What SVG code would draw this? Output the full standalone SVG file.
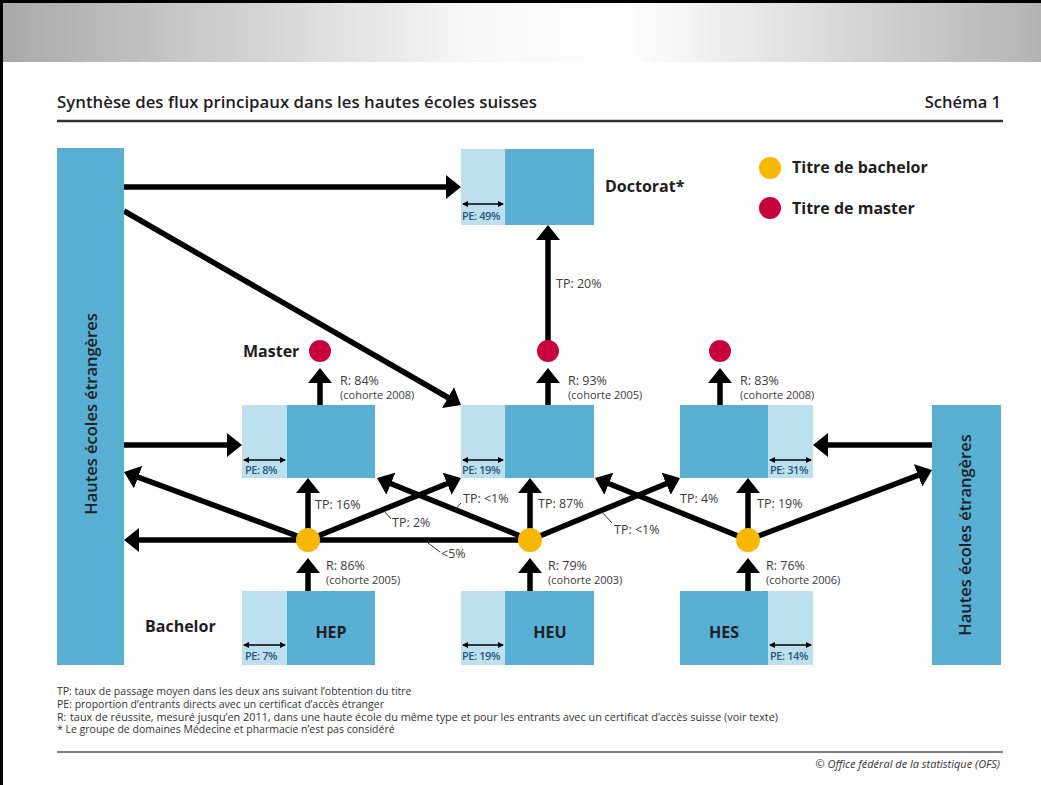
<svg xmlns="http://www.w3.org/2000/svg" width="1041" height="785" viewBox="0 0 1041 785">
<defs>
<linearGradient id="banner" x1="0" y1="0" x2="1" y2="0">
<stop offset="0" stop-color="#a9a9a9"/>
<stop offset="0.45" stop-color="#f7f7f7"/>
<stop offset="0.6" stop-color="#ffffff"/>
<stop offset="1" stop-color="#b3b3b3"/>
</linearGradient>
<marker id="ah" markerUnits="userSpaceOnUse" markerWidth="15" markerHeight="24" viewBox="0 0 15 24" refX="11" refY="12" orient="auto">
<path d="M0,0 L15,12 L0,24 Z" fill="#000"/>
</marker>
<marker id="pa" markerUnits="userSpaceOnUse" markerWidth="6" markerHeight="6" viewBox="0 0 6 6" refX="5" refY="3" orient="auto-start-reverse">
<path d="M0,0 L6,3 L0,6 Z" fill="#000"/>
</marker>
</defs>
<style>
text{font-family:"Open Sans","Liberation Sans",sans-serif}
.dark{fill:#58afd4}
.light{fill:#bde0ef}
.lbl{font-size:12.5px;fill:#3b3b3b}
.coh{font-size:11px;fill:#3b3b3b}
.pe{font-size:11px;font-weight:600;fill:#2a5677;letter-spacing:-0.4px}
.big{font-size:16px;font-weight:700;fill:#1e1e1e}
.vert{font-size:16.5px;font-weight:600;fill:#1e1e1e}
.fn{font-size:10.5px;fill:#333}
.arr{stroke:#000;stroke-width:5.5;fill:none;marker-end:url(#ah)}
.pel{stroke:#000;stroke-width:1.5;fill:none;marker-start:url(#pa);marker-end:url(#pa)}
.lead{stroke:#333;stroke-width:1;fill:none}
.yel{fill:#f9b800}
.mag{fill:#c8003f}
</style>
<rect x="0" y="0" width="1041" height="785" fill="#fff"/>
<rect x="3" y="3" width="1038" height="59" fill="url(#banner)"/>
<rect x="0" y="0" width="1041" height="3" fill="#000"/>
<rect x="0" y="0" width="3" height="785" fill="#000"/>

<g id="title">
<text x="57" y="108" textLength="480" lengthAdjust="spacingAndGlyphs" style="font-size:16.5px;font-weight:600;fill:#1e1e1e">Synthèse des flux principaux dans les hautes écoles suisses</text>
<text x="1001" y="108" text-anchor="end" style="font-size:16.5px;font-weight:600;fill:#1e1e1e">Schéma 1</text>
<line x1="57" y1="121" x2="1003" y2="121" stroke="#333" stroke-width="2.5"/>
</g>

<g id="connectors">
<path class="arr" d="M124,187 L457,187"/>
<path class="arr" d="M124,211 L457.5,403"/>
<path class="arr" d="M124,445 L238,445"/>
<path class="arr" d="M932,445 L817,445"/>
<path class="arr" d="M308,591 L308,562"/>
<path class="arr" d="M308,540 L308,482"/>
<path class="arr" d="M320,405 L320,372"/>
<path class="arr" d="M530,591 L530,562"/>
<path class="arr" d="M530,540 L530,482"/>
<path class="arr" d="M548,405 L548,372"/>
<path class="arr" d="M548,351 L548,229"/>
<path class="arr" d="M748,591 L748,562"/>
<path class="arr" d="M748,540 L748,482"/>
<path class="arr" d="M720,405 L720,372"/>
<path class="arr" d="M530,540 L128,540"/>
<path class="arr" d="M308,540 L127.8,473.4"/>
<path class="arr" d="M530,540 L380.7,479.5"/>
<path class="arr" d="M308,540 L457.3,479.5"/>
<path class="arr" d="M530,540 L676.3,479.5"/>
<path class="arr" d="M748,540 L598.7,479.5"/>
<path class="arr" d="M748,540 L928.3,471.4"/>
<path class="lead" d="M384,511 L391,519"/>
<path class="lead" d="M455,510 L461,503"/>
<path class="lead" d="M428,543 L440,552"/>
<path class="lead" d="M602,512 L612,523"/>
</g>

<g id="etr-left">
<rect class="dark" x="57" y="148" width="67" height="517"/>
<text class="vert" transform="translate(97,414) rotate(-90)" text-anchor="middle">Hautes écoles étrangères</text>
</g>
<g id="etr-right">
<rect class="dark" x="932" y="405" width="69" height="260"/>
<text class="vert" transform="translate(971,535) rotate(-90)" text-anchor="middle">Hautes écoles étrangères</text>
</g>

<g id="doctorat">
<rect class="light" x="461" y="149" width="44" height="76"/>
<rect class="dark" x="505" y="149" width="89" height="76"/>
<path class="pel" d="M463,204 L503,204"/>
<text class="pe" x="462" y="220">PE: 49%</text>
<text class="big" x="605" y="192">Doctorat*</text>
</g>

<g id="legend">
<circle class="yel" cx="770" cy="168" r="11"/>
<text class="big" x="792" y="173">Titre de bachelor</text>
<circle class="mag" cx="770" cy="208" r="11"/>
<text class="big" x="792" y="214">Titre de master</text>
</g>

<g id="master-hep">
<rect class="light" x="242" y="405" width="45" height="73"/>
<rect class="dark" x="287" y="405" width="88" height="73"/>
<path class="pel" d="M244,460 L285,460"/>
<text class="pe" x="245" y="474">PE: 8%</text>
<text class="big" x="243" y="357">Master</text>
<circle class="mag" cx="320" cy="351" r="11"/>
<text class="lbl" x="340" y="385">R: 84%</text>
<text class="coh" x="340" y="399">(cohorte 2008)</text>
</g>

<g id="master-heu">
<rect class="light" x="461" y="405" width="44" height="73"/>
<rect class="dark" x="505" y="405" width="89" height="73"/>
<path class="pel" d="M463,460 L503,460"/>
<text class="pe" x="462" y="474">PE: 19%</text>
<circle class="mag" cx="548" cy="351" r="11"/>
<text class="lbl" x="568" y="385">R: 93%</text>
<text class="coh" x="568" y="399">(cohorte 2005)</text>
<text class="lbl" x="556" y="288">TP: 20%</text>
</g>

<g id="master-hes">
<rect class="dark" x="680" y="405" width="88" height="73"/>
<rect class="light" x="768" y="405" width="45" height="73"/>
<path class="pel" d="M770,460 L811,460"/>
<text class="pe" x="770" y="474">PE: 31%</text>
<circle class="mag" cx="720" cy="351" r="11"/>
<text class="lbl" x="740" y="385">R: 83%</text>
<text class="coh" x="740" y="399">(cohorte 2008)</text>
</g>

<g id="titre-hep">
<circle class="yel" cx="308" cy="540" r="12"/>
<text class="lbl" x="315" y="509">TP: 16%</text>
<text class="lbl" x="392" y="527">TP: 2%</text>
<text class="lbl" x="326" y="570">R: 86%</text>
<text class="coh" x="326" y="584">(cohorte 2005)</text>
</g>
<g id="titre-heu">
<circle class="yel" cx="530" cy="540" r="12"/>
<text class="lbl" x="463" y="503">TP: &lt;1%</text>
<text class="lbl" x="538" y="508">TP: 87%</text>
<text class="lbl" x="441" y="558">&lt;5%</text>
<text class="lbl" x="548" y="570">R: 79%</text>
<text class="coh" x="548" y="584">(cohorte 2003)</text>
</g>
<g id="titre-hes">
<circle class="yel" cx="748" cy="540" r="12"/>
<text class="lbl" x="614" y="534">TP: &lt;1%</text>
<text class="lbl" x="680" y="503">TP: 4%</text>
<text class="lbl" x="757" y="508">TP: 19%</text>
<text class="lbl" x="766" y="570">R: 76%</text>
<text class="coh" x="766" y="584">(cohorte 2006)</text>
</g>

<g id="bachelor-hep">
<rect class="light" x="242" y="591" width="45" height="74"/>
<rect class="dark" x="287" y="591" width="88" height="74"/>
<path class="pel" d="M244,645 L285,645"/>
<text class="pe" x="245" y="660">PE: 7%</text>
<text class="big" x="331" y="638" text-anchor="middle">HEP</text>
<text class="big" x="145" y="632">Bachelor</text>
</g>
<g id="bachelor-heu">
<rect class="light" x="461" y="591" width="44" height="74"/>
<rect class="dark" x="505" y="591" width="89" height="74"/>
<path class="pel" d="M463,645 L503,645"/>
<text class="pe" x="462" y="660">PE: 19%</text>
<text class="big" x="550" y="638" text-anchor="middle">HEU</text>
</g>
<g id="bachelor-hes">
<rect class="dark" x="680" y="591" width="88" height="74"/>
<rect class="light" x="768" y="591" width="45" height="74"/>
<path class="pel" d="M770,645 L811,645"/>
<text class="pe" x="770" y="660">PE: 14%</text>
<text class="big" x="724" y="638" text-anchor="middle">HES</text>
</g>

<g id="footnotes">
<text class="fn" x="57" y="695">TP: taux de passage moyen dans les deux ans suivant l’obtention du titre</text>
<text class="fn" x="57" y="708">PE: proportion d’entrants directs avec un certificat d’accès étranger</text>
<text class="fn" x="57" y="721">R:</text>
<text class="fn" x="70" y="721" textLength="708" lengthAdjust="spacingAndGlyphs">taux de réussite, mesuré jusqu’en 2011, dans une haute école du même type et pour les entrants avec un certificat d’accès suisse (voir texte)</text>
<text class="fn" x="57" y="733">* Le groupe de domaines Médecine et pharmacie n’est pas considéré</text>
<line x1="57" y1="752" x2="1003" y2="752" stroke="#555" stroke-width="1.5"/>
<text class="fn" x="1000" y="768" text-anchor="end" style="font-style:italic;font-size:11px">© Office fédéral de la statistique (OFS)</text>
</g>
</svg>
